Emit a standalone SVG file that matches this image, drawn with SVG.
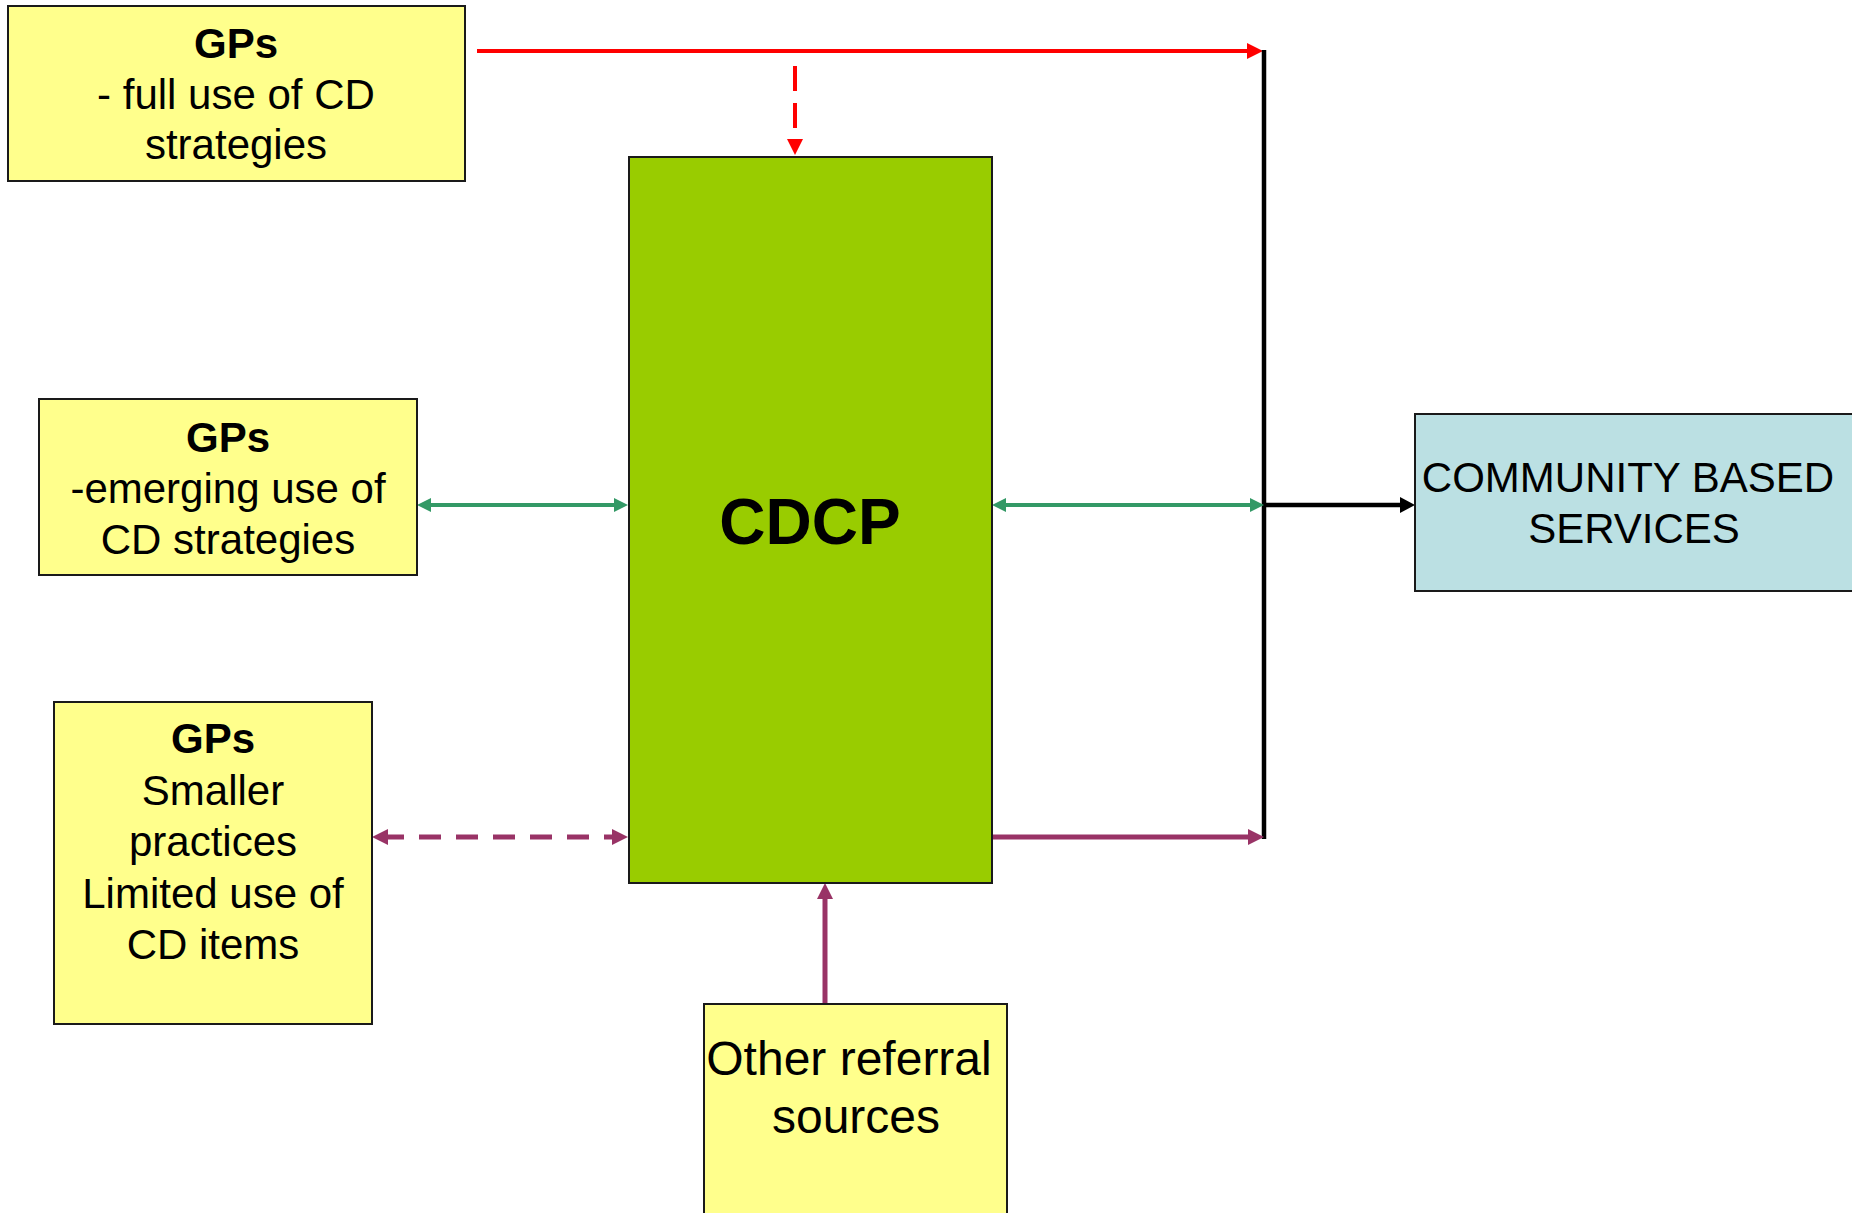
<svg xmlns="http://www.w3.org/2000/svg" width="1852" height="1213" viewBox="0 0 1852 1213">
  <style>
    .box { stroke: #1a1a1a; stroke-width: 2; }
    .gp { fill: #FFFF8C; }
    .txt { font-family: "Liberation Sans", Arial, sans-serif; font-size: 42px; fill: #000; text-anchor: middle; }
    .b { font-weight: bold; }
    .red { stroke: #FF0000; stroke-width: 4; fill: none; }
    .grn { stroke: #339966; stroke-width: 4; fill: none; }
    .pur { stroke: #993366; stroke-width: 5; fill: none; }
    .blk { stroke: #000; stroke-width: 4.5; fill: none; }
  </style>
  <defs>
    <marker id="ahRed" markerUnits="userSpaceOnUse" viewBox="0 0 16 16" markerWidth="16" markerHeight="16" refX="6" refY="8" orient="auto">
      <path d="M0,0 L16,8 L0,16 z" fill="#FF0000"/>
    </marker>
    <marker id="ahGrn" markerUnits="userSpaceOnUse" viewBox="0 0 14 14" markerWidth="14" markerHeight="14" refX="5" refY="7" orient="auto-start-reverse">
      <path d="M0,0 L14,7 L0,14 z" fill="#339966"/>
    </marker>
    <marker id="ahPur" markerUnits="userSpaceOnUse" viewBox="0 0 16 16" markerWidth="16" markerHeight="16" refX="6" refY="8" orient="auto-start-reverse">
      <path d="M0,0 L16,8 L0,16 z" fill="#993366"/>
    </marker>
    <marker id="ahBlk" markerUnits="userSpaceOnUse" viewBox="0 0 15 16" markerWidth="15" markerHeight="16" refX="5" refY="8" orient="auto">
      <path d="M0,0 L15,8 L0,16 z" fill="#000"/>
    </marker>
  </defs>

  <rect width="1852" height="1213" fill="#fff"/>

  <!-- connectors -->
  <g id="connectors">
    <!-- GPs full use: to the services bus and down into CDCP -->
    <line class="red" x1="477" y1="51" x2="1253" y2="51" marker-end="url(#ahRed)"/>
    <line class="red" x1="795" y1="66" x2="795" y2="145" stroke-dasharray="25 12" marker-end="url(#ahRed)"/>
    <!-- services bus -->
    <line class="blk" x1="1264" y1="50" x2="1264" y2="839"/>
    <line class="blk" x1="1264" y1="505" x2="1405" y2="505" marker-end="url(#ahBlk)"/>
    <!-- GPs emerging use <-> CDCP -->
    <line class="grn" x1="426" y1="505" x2="619" y2="505" marker-start="url(#ahGrn)" marker-end="url(#ahGrn)"/>
    <!-- CDCP <-> services bus -->
    <line class="grn" x1="1001" y1="505" x2="1255" y2="505" marker-start="url(#ahGrn)" marker-end="url(#ahGrn)"/>
    <!-- smaller practices <-> CDCP -->
    <line class="pur" x1="382" y1="837" x2="618" y2="837" stroke-dasharray="22 15" marker-start="url(#ahPur)" marker-end="url(#ahPur)"/>
    <!-- CDCP -> services bus -->
    <line class="pur" x1="992" y1="837" x2="1254" y2="837" marker-end="url(#ahPur)"/>
    <!-- other referral sources -> CDCP -->
    <line class="pur" x1="825" y1="1004" x2="825" y2="893" marker-end="url(#ahPur)"/>
  </g>

  <g id="gps-full">
    <rect class="box gp" x="8" y="6" width="457" height="175"/>
    <text class="txt b" x="236" y="58">GPs</text>
    <text class="txt" x="236" y="109">- full use of CD</text>
    <text class="txt" x="236" y="159">strategies</text>
  </g>

  <g id="gps-emerging">
    <rect class="box gp" x="39" y="399" width="378" height="176"/>
    <text class="txt b" x="228" y="452">GPs</text>
    <text class="txt" x="228" y="503">-emerging use of</text>
    <text class="txt" x="228" y="554">CD strategies</text>
  </g>

  <g id="gps-smaller">
    <rect class="box gp" x="54" y="702" width="318" height="322"/>
    <text class="txt b" x="213" y="753">GPs</text>
    <text class="txt" x="213" y="805">Smaller</text>
    <text class="txt" x="213" y="856">practices</text>
    <text class="txt" x="213" y="908">Limited use of</text>
    <text class="txt" x="213" y="959">CD items</text>
  </g>

  <g id="cdcp">
    <rect class="box" x="629" y="157" width="363" height="726" fill="#99CC00"/>
    <text class="txt b" x="810" y="544" style="font-size:64px">CDCP</text>
  </g>

  <g id="community-services">
    <rect class="box" x="1415" y="414" width="450" height="177" fill="#BBE0E3"/>
    <text class="txt" x="1628" y="492">COMMUNITY BASED</text>
    <text class="txt" x="1634" y="543">SERVICES</text>
  </g>

  <g id="other-referral">
    <rect class="box gp" x="704" y="1004" width="303" height="230"/>
    <text class="txt" x="849" y="1075" style="font-size:48px">Other referral</text>
    <text class="txt" x="856" y="1133" style="font-size:48px">sources</text>
  </g>
</svg>
